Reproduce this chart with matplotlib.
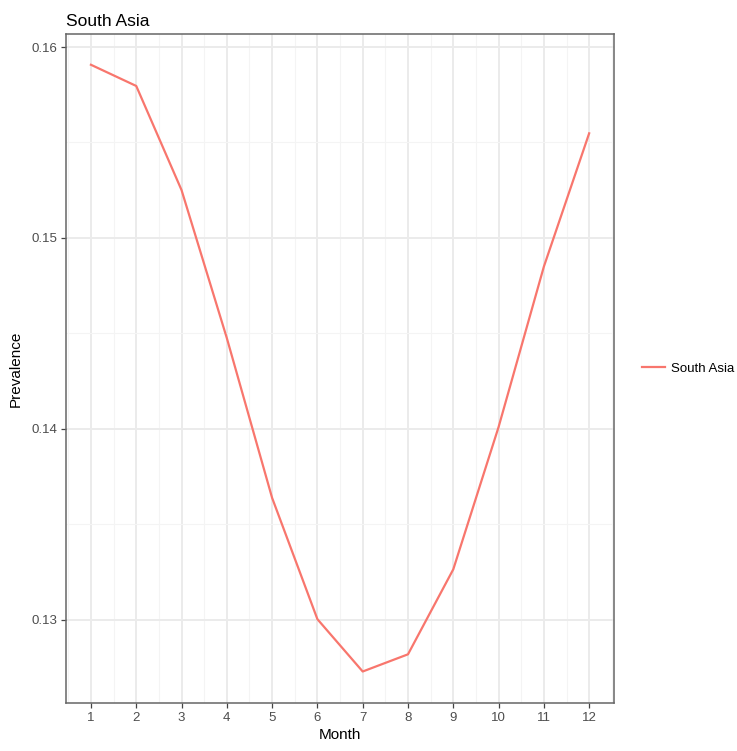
import numpy as np
import matplotlib
matplotlib.use("Agg")
import matplotlib.pyplot as plt
from matplotlib.ticker import MultipleLocator

# values
months = [1, 2, 3, 4, 5, 6, 7, 8, 9, 10, 11, 12]
prevalence = [0.15907, 0.15796, 0.15251, 0.14476, 0.13639, 0.13004,
              0.12730, 0.12820, 0.13265, 0.14010, 0.14850, 0.15548]
series_name = "South Asia"

plt.rcParams['font.family'] = ['Liberation Sans', 'DejaVu Sans']

fig = plt.figure(figsize=(7.37, 7.51), dpi=100)
ax = fig.add_axes([0.0896, 0.0639, 0.7436, 0.8908])

ax.plot(months, prevalence, color='#F8766D', linewidth=1.6, label=series_name,
        zorder=3)

ax.set_xlim(0.45, 12.55)
ax.set_ylim(0.12565, 0.16068)
ax.set_xticks(months)
ax.set_yticks([0.13, 0.14, 0.15, 0.16])
ax.set_yticklabels(["0.13", "0.14", "0.15", "0.16"])
ax.xaxis.set_minor_locator(MultipleLocator(0.5))
ax.yaxis.set_minor_locator(MultipleLocator(0.005))

ax.grid(True, which='major', color='#EBEBEB', linewidth=1.4, zorder=0)
ax.grid(True, which='minor', color='#F4F4F4', linewidth=0.8, zorder=0)
ax.set_axisbelow(True)

for s in ax.spines.values():
    s.set_color('#666666')
    s.set_linewidth(1.1)

ax.tick_params(axis='both', which='major', direction='out', length=3.5,
               width=0.9, color='#444444', labelcolor='#4D4D4D',
               labelsize=9.5, pad=3)
ax.tick_params(axis='both', which='minor', length=0)

ax.set_xlabel("Month", fontsize=11, color='black', labelpad=3)
ax.set_ylabel("Prevalence", fontsize=11, color='black', labelpad=6)
ax.set_title("South Asia", loc='left', fontsize=12.5, pad=6)

leg = ax.legend(loc='center left', bbox_to_anchor=(1.03, 0.5), frameon=False,
                fontsize=9.5, handlelength=1.7, handletextpad=0.5)

fig.savefig("out.png", dpi=100)
